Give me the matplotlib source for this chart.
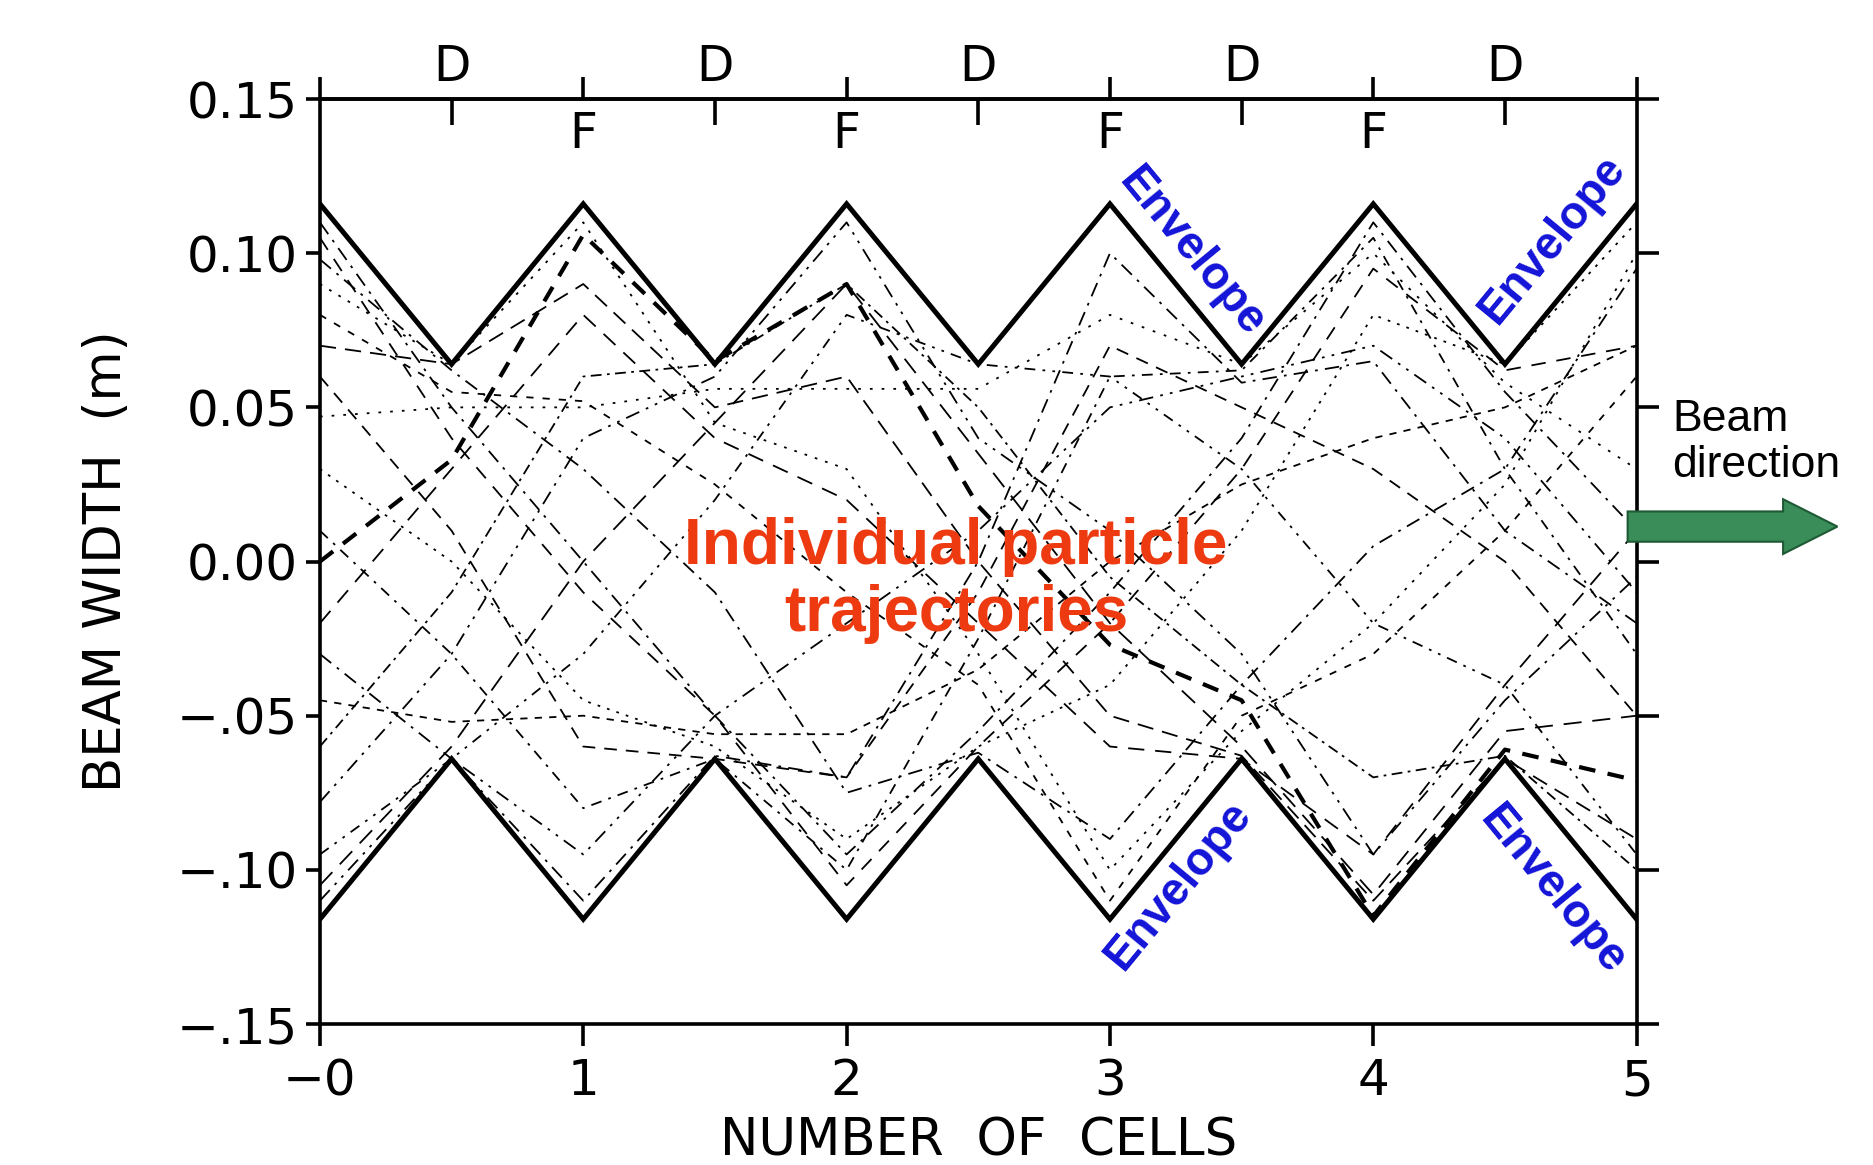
import numpy as np
import matplotlib
matplotlib.use("Agg")
import matplotlib.pyplot as plt
from matplotlib.patches import FancyArrow

# ---- data -------------------------------------------------------------
cells = [0, 0.5, 1, 1.5, 2, 2.5, 3, 3.5, 4, 4.5, 5]

env_upper = [0.116, 0.064, 0.116, 0.064, 0.116, 0.064, 0.116, 0.064, 0.116, 0.064, 0.116]
env_lower = [-0.116, -0.064, -0.116, -0.064, -0.116, -0.064, -0.116, -0.064, -0.116, -0.064, -0.116]

# highlighted particle (bold dashes)
bold_traj = [0.0, 0.033, 0.106, 0.065, 0.090, 0.018, -0.027, -0.045, -0.115, -0.061, -0.071]

# other particles
traj = [
    [0.105, 0.040, -0.010, -0.050, -0.105, -0.060, -0.020, 0.030, 0.095, 0.062, 0.070],
    [0.098, 0.062, 0.030, -0.010, -0.075, -0.062, -0.090, -0.040, 0.005, 0.030, 0.095],
    [0.080, 0.055, 0.052, 0.025, -0.010, -0.040, -0.110, -0.050, -0.030, 0.010, 0.060],
    [0.047, 0.050, 0.050, 0.056, 0.056, 0.056, 0.080, 0.064, 0.100, 0.058, 0.030],
    [-0.045, -0.052, -0.050, -0.056, -0.056, -0.035, 0.000, 0.025, 0.040, 0.050, 0.070],
    [-0.078, -0.030, 0.040, 0.060, 0.110, 0.040, 0.010, -0.030, -0.095, -0.045, -0.005],
    [-0.105, -0.060, 0.000, 0.045, 0.090, 0.035, -0.020, -0.060, -0.108, -0.055, -0.050],
    [0.110, 0.050, 0.000, -0.050, -0.095, -0.055, -0.010, 0.040, 0.110, 0.055, 0.010],
    [0.010, -0.030, -0.080, -0.064, -0.100, -0.025, 0.060, 0.062, 0.105, 0.030, -0.030],
    [-0.020, 0.030, 0.080, 0.040, 0.020, -0.020, -0.060, -0.064, -0.095, -0.040, 0.010],
    [0.030, 0.000, -0.045, -0.060, -0.090, -0.060, -0.040, 0.010, 0.080, 0.064, 0.110],
    [-0.110, -0.064, -0.095, -0.050, -0.020, 0.010, 0.050, 0.060, 0.070, 0.040, -0.010],
    [0.060, 0.010, -0.060, -0.064, -0.070, -0.010, 0.070, 0.050, 0.030, 0.000, -0.050],
    [-0.060, -0.010, 0.060, 0.064, 0.090, 0.050, -0.005, -0.040, -0.070, -0.063, -0.100],
    [0.070, 0.064, 0.090, 0.050, 0.060, 0.000, -0.050, -0.063, -0.110, -0.064, -0.090],
    [-0.030, -0.064, -0.110, -0.063, -0.070, 0.000, 0.100, 0.058, 0.065, 0.010, -0.020],
    [0.090, 0.064, 0.110, 0.045, 0.030, -0.030, -0.100, -0.055, -0.020, 0.025, 0.100],
    [-0.095, -0.064, -0.030, 0.020, 0.080, 0.064, 0.060, 0.030, -0.020, -0.040, -0.095],
]

styles = [
    (0, (8, 6)),
    (0, (8, 4, 1.5, 4)),
    (0, (4, 5)),
    (0, (1.5, 5)),
    (0, (4, 4)),
    (0, (8, 4, 1.5, 4, 1.5, 4)),
    (0, (10, 6)),
    (0, (8, 4, 1.5, 4)),
    (0, (6, 4, 1.5, 4)),
    (0, (9, 6)),
    (0, (1.5, 4)),
    (0, (8, 4, 1.5, 4, 1.5, 4)),
    (0, (7, 5)),
    (0, (6, 3, 1.5, 3)),
    (0, (9, 5)),
    (0, (8, 4, 1.5, 4)),
    (0, (1.5, 4.5)),
    (0, (6, 4, 1.5, 4, 1.5, 4)),
]

yticks = [0.15, 0.10, 0.05, 0.0, -0.05, -0.10, -0.15]
ytick_labels = ['0.15', '0.10', '0.05', '0.00', '\u2212.05', '\u2212.10', '\u2212.15']
xticks = [0, 1, 2, 3, 4, 5]
xtick_labels = ['\u22120', '1', '2', '3', '4', '5']
d_pos = [0.5, 1.5, 2.5, 3.5, 4.5]
f_pos = [1, 2, 3, 4]

# ---- plot ---------------------------------------------------------------
plt.rcParams['font.family'] = ['DejaVu Sans']
arial = ['Liberation Sans', 'DejaVu Sans']

fig = plt.figure(figsize=(18.73, 11.65), dpi=100)
ax = fig.add_axes([0.1708, 0.121, 0.703, 0.794])

for t, ls in zip(traj, styles):
    ax.plot(cells, t, color='black', lw=1.3, linestyle=ls)

ax.plot(cells, bold_traj, color='black', lw=3.0, linestyle=(0, (4, 3)))
ax.plot(cells, env_upper, color='black', lw=3.6, solid_joinstyle='miter')
ax.plot(cells, env_lower, color='black', lw=3.6, solid_joinstyle='miter')

ax.set_xlim(0, 5)
ax.set_ylim(-0.15, 0.15)
for s in ax.spines.values():
    s.set_linewidth(2.6)

ax.set_yticks(yticks)
ax.set_yticklabels(ytick_labels)
ax.set_xticks(xticks)
ax.set_xticklabels(xtick_labels)
ax.tick_params(axis='y', direction='out', length=10, width=2.6, labelsize=36, pad=6)
ax.tick_params(axis='x', direction='out', length=16, width=2.6, labelsize=36, pad=8)

ax.set_ylabel('BEAM WIDTH  (m)', fontsize=37)
ax.yaxis.set_label_coords(-0.143, 0.5)
ax.set_xlabel('NUMBER  OF  CELLS', fontsize=37)
ax.xaxis.set_label_coords(0.5, -0.100)

# top axis: D ticks inwards with labels above, F ticks outwards
top_d = ax.secondary_xaxis('top')
top_d.set_xticks(d_pos)
top_d.set_xticklabels(['D'] * len(d_pos))
top_d.tick_params(direction='in', length=19, width=2.6, labelsize=35, pad=6)
top_d.spines['top'].set_linewidth(2.6)

top_f = ax.secondary_xaxis('top')
top_f.set_xticks([0, 1, 2, 3, 4, 5])
top_f.set_xticklabels([])
top_f.tick_params(direction='out', length=16, width=2.6)
for x in f_pos:
    ax.text(x, 0.962, 'F', transform=ax.get_xaxis_transform(), ha='center', va='center',
            fontsize=35)

right = ax.secondary_yaxis('right')
right.set_yticks(yticks)
right.set_yticklabels([])
right.tick_params(direction='out', length=16, width=2.6)

# annotations
ax.text(2.415, -0.006, 'Individual particle\ntrajectories', color='#ee3a10', fontsize=46,
        fontweight='bold', ha='center', va='center', linespacing=1.15, family=arial)

blue = '#1414d8'
ax.text(3.31, 0.100, 'Envelope', color=blue, fontsize=33, fontweight='bold', family=arial,
        rotation=-50.5, ha='center', va='center', rotation_mode='anchor')
ax.text(4.68, 0.1046, 'Envelope', color=blue, fontsize=33, fontweight='bold', family=arial,
        rotation=50.5, ha='center', va='center', rotation_mode='anchor')
ax.text(3.26, -0.105, 'Envelope', color=blue, fontsize=33, fontweight='bold', family=arial,
        rotation=50.5, ha='center', va='center', rotation_mode='anchor')
ax.text(4.68, -0.1066, 'Envelope', color=blue, fontsize=33, fontweight='bold', family=arial,
        rotation=-50.5, ha='center', va='center', rotation_mode='anchor')

fig.text(0.8927, 0.620, 'Beam\ndirection', fontsize=32, ha='left', va='center',
         linespacing=1.15, family=arial)
arrow = FancyArrow(0.869, 0.548, 0.112, 0, width=0.026, head_width=0.047,
                   head_length=0.029, length_includes_head=True,
                   facecolor='#3a8c58', edgecolor='#1e5a34', lw=1.5,
                   transform=fig.transFigure, clip_on=False)
fig.patches.append(arrow)

fig.savefig('out.png', dpi=100)
